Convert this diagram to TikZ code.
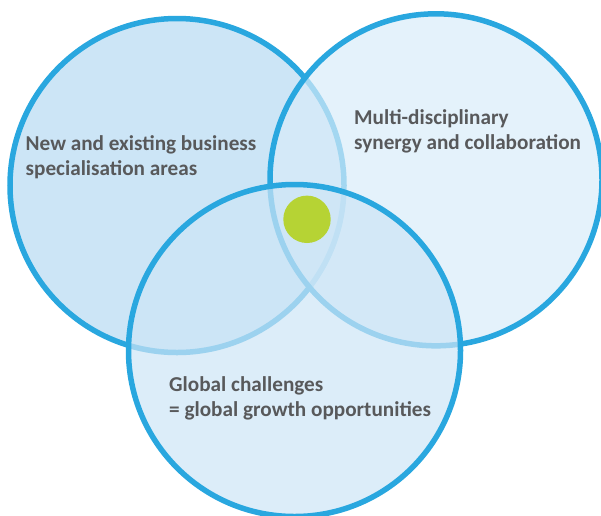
\documentclass[tikz,border=0pt]{standalone}
\usepackage{fontspec}
\setmainfont{Carlito}
\definecolor{ringblue}{RGB}{41,167,223}
\definecolor{fillA}{RGB}{204,229,246}
\definecolor{fillB}{RGB}{216,236,249}
\definecolor{fillC}{RGB}{205,229,246}
\definecolor{hubgreen}{RGB}{182,211,52}
\definecolor{labelgray}{RGB}{88,89,91}
\tikzset{
  ring/.style={draw=ringblue, line width=5.5pt},
  label/.style={text=labelgray, font=\fontsize{21.2}{25}\selectfont\bfseries,
    align=left, inner sep=0pt, anchor=base west}
}
\begin{document}
\begin{tikzpicture}[x=1pt, y=-1pt]
  \useasboundingbox (0,0) rectangle (601,515);
  % three overlapping areas, later ones translucent over earlier ones
  \draw[ring, fill=fillA] (177,185.5) circle (167);
  \draw[ring, fill=fillB, fill opacity=0.7] (436,179.8) circle (166);
  \draw[ring, fill=fillC, fill opacity=0.7] (294.5,350.5) circle (166);
  % centre where all three meet
  \fill[hubgreen] (307,219.3) circle (23.7) node (hub) {};
  % labels are placed by the baseline of their last line
  \node[label] (business) at (25.5,175) {New and existing business\\specialisation areas};
  \node[label] (synergy) at (354,149) {Multi-disciplinary\\synergy and collaboration};
  \node[label] (global) at (169,416.7) {Global challenges\\= global growth opportunities};
\end{tikzpicture}
\end{document}
